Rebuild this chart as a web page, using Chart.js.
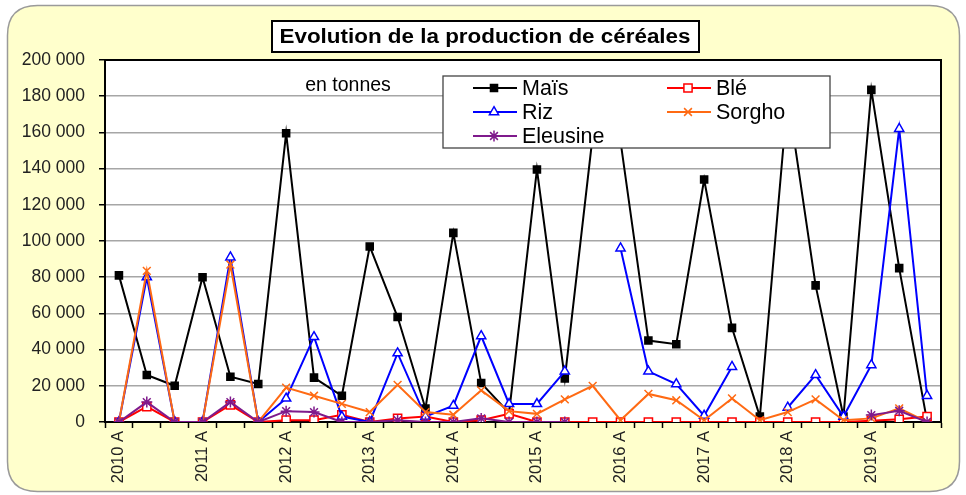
<!DOCTYPE html>
<html><head><meta charset="utf-8">
<script src="https://cdn.jsdelivr.net/npm/chart.js@4.4.1/dist/chart.umd.min.js"></script>
<style>html,body{margin:0;padding:0;background:#fff;}canvas{display:block;}</style>
</head><body>
<canvas id="c" width="966" height="495"></canvas>
<script>
const categories = [
  "2010 A","2010 B","2010 C","2011 A","2011 B","2011 C","2012 A","2012 B","2012 C",
  "2013 A","2013 B","2013 C","2014 A","2014 B","2014 C","2015 A","2015 B","2015 C",
  "2016 A","2016 B","2016 C","2017 A","2017 B","2017 C","2018 A","2018 B","2018 C",
  "2019 A","2019 B","2019 C"
];
const tickLabels = [
  "2010 A","","","2011 A","","","2012 A","","","2013 A","","","2014 A","","",
  "2015 A","","","2016 A","","","2017 A","","","2018 A","","","2019 A","",""
];
const mais = [81000,26000,20000,80000,25000,21000,159500,24500,14500,97000,58000,7500,104500,21500,5000,139500,24000,158000,155000,45000,43000,134000,52000,3000,180000,75500,3000,183500,85000,500];
const ble = [0,8500,0,0,9500,0,1000,1000,4000,0,2000,3000,0,1000,4500,0,0,0,0,0,0,0,0,0,0,0,0,700,1500,3000];
const riz = [0,80000,0,0,91000,0,13000,47000,3000,0,38000,3000,9000,47500,10000,10000,28000,null,96000,28000,21000,3500,30500,null,8000,26000,3000,31500,162000,14500];
const sorgho = [0,83500,0,0,87000,0,19000,14500,10000,5500,20500,5500,4000,17500,6000,4500,12500,20000,1000,15500,12000,1000,13000,1000,5500,12500,1000,2000,7500,0];
const eleusine = [0,11000,0,0,11000,0,6000,5500,0,0,1000,0,0,2000,0,0,0,null,null,null,null,null,null,null,null,null,null,3800,6200,0];
const seriesNames = ["Maïs","Blé","Riz","Sorgho","Eleusine"];
const titleText = "Evolution de la production de céréales";
const unitText = "en tonnes";

const FONT = "'Liberation Sans', Arial, sans-serif";

const framePlugin = {
  id: 'frame',
  beforeDraw(chart) {
    const ctx = chart.ctx, a = chart.chartArea;
    ctx.save();
    ctx.fillStyle = '#ffffff';
    ctx.fillRect(0, 0, chart.width, chart.height);
    const x = 7.5, y = 5.5, w = 952, h = 486, r = 30;
    ctx.beginPath();
    ctx.moveTo(x + r, y);
    ctx.lineTo(x + w - r, y); ctx.quadraticCurveTo(x + w, y, x + w, y + r);
    ctx.lineTo(x + w, y + h - r); ctx.quadraticCurveTo(x + w, y + h, x + w - r, y + h);
    ctx.lineTo(x + r, y + h); ctx.quadraticCurveTo(x, y + h, x, y + h - r);
    ctx.lineTo(x, y + r); ctx.quadraticCurveTo(x, y, x + r, y);
    ctx.closePath();
    ctx.fillStyle = '#FFFFCC';
    ctx.fill();
    ctx.strokeStyle = '#9a9a9a';
    ctx.lineWidth = 1.5;
    ctx.stroke();
    ctx.fillStyle = '#ffffff';
    ctx.fillRect(a.left, a.top, a.right - a.left, a.bottom - a.top);
    ctx.restore();
  },
  beforeDatasetsDraw(chart) {
    const ctx = chart.ctx, a = chart.chartArea;
    ctx.save();
    ctx.strokeStyle = '#000';
    ctx.lineWidth = 2;
    ctx.beginPath();
    ctx.moveTo(a.left, a.top); ctx.lineTo(a.right, a.top); ctx.lineTo(a.right, a.bottom);
    ctx.stroke();
    ctx.fillStyle = '#000';
    ctx.font = '19.5px ' + FONT;
    ctx.textAlign = 'center';
    ctx.textBaseline = 'middle';
    ctx.fillText(unitText, 348, 86);
    ctx.restore();
  },
  afterDatasetsDraw(chart) {
    const ctx = chart.ctx;
    ctx.save();
    ctx.fillStyle = '#fff';
    ctx.fillRect(443, 76, 387, 72);
    ctx.strokeStyle = '#444';
    ctx.lineWidth = 1.3;
    ctx.strokeRect(443, 76, 387, 72);
    const cols = [{x1: 473, x2: 517, mx: 494, tx: 522}, {x1: 667, x2: 711, mx: 688, tx: 716}];
    const rows = [88, 112, 136];
    chart.data.datasets.forEach((ds, i) => {
      const c = cols[i % 2], yy = rows[Math.floor(i / 2)];
      ctx.strokeStyle = ds.borderColor;
      ctx.lineWidth = 2;
      ctx.beginPath(); ctx.moveTo(c.x1, yy); ctx.lineTo(c.x2, yy); ctx.stroke();
      ctx.fillStyle = ds.pointBackgroundColor;
      ctx.strokeStyle = ds.pointBorderColor;
      ctx.lineWidth = ds.pointBorderWidth;
      Chart.helpers.drawPoint(ctx, {pointStyle: ds.pointStyle, radius: ds.pointRadius, rotation: 0, borderWidth: ds.pointBorderWidth}, c.mx, yy);
      ctx.fillStyle = '#000';
      ctx.font = '21.5px ' + FONT;
      ctx.textAlign = 'left';
      ctx.textBaseline = 'middle';
      ctx.fillText(ds.label, c.tx, yy + 1);
    });
    ctx.restore();
  },
  afterDraw(chart) {
    const ctx = chart.ctx;
    ctx.save();
    ctx.fillStyle = '#fff';
    ctx.fillRect(272, 21, 427, 31);
    ctx.strokeStyle = '#000';
    ctx.lineWidth = 2;
    ctx.strokeRect(272, 21, 427, 31);
    ctx.fillStyle = '#000';
    ctx.font = 'bold 20px ' + FONT;
    ctx.textAlign = 'center';
    ctx.textBaseline = 'middle';
    const tw = ctx.measureText(titleText).width;
    const sx = 411 / tw;
    ctx.translate(485, 37.5);
    ctx.scale(sx, 1);
    ctx.fillText(titleText, 0, 0);
    ctx.restore();
  }
};

function mk(label, data, color, style, radius, fill) {
  return {
    label, data,
    borderColor: color, backgroundColor: color,
    borderWidth: 2,
    pointStyle: style, pointRadius: radius, pointHoverRadius: radius,
    pointBackgroundColor: fill, pointBorderColor: color, pointBorderWidth: 1.5,
    tension: 0, spanGaps: false, fill: false
  };
}

const datasets = [
  Object.assign(mk(seriesNames[0], mais, '#000000', 'rect', 5, '#000000'), {order: 5}),
  Object.assign(mk(seriesNames[1], ble, '#FF0000', 'rect', 5.8, '#ffffff'), {order: 4}),
  Object.assign(mk(seriesNames[2], riz, '#0000FF', 'triangle', 5.3, '#ffffff'), {order: 3}),
  Object.assign(mk(seriesNames[3], sorgho, '#FF6A13', 'crossRot', 5.5, '#FF6A13'), {order: 2}),
  Object.assign(mk(seriesNames[4], eleusine, '#7F1A8C', 'star', 5.5, '#7F1A8C'), {order: 1})
];

new Chart(document.getElementById('c'), {
  type: 'line',
  data: {labels: categories, datasets},
  options: {
    responsive: false,
    animation: false,
    events: [],
    layout: {padding: {top: 60, right: 25, bottom: 0, left: 0}},
    plugins: {legend: {display: false}, tooltip: {enabled: false}, title: {display: false}},
    scales: {
      x: {
        offset: true,
        grid: {display: true, drawOnChartArea: false, offset: true, tickLength: 6, tickColor: '#000', tickWidth: 1.5},
        border: {color: '#000', width: 2},
        ticks: {
          autoSkip: false, maxRotation: 90, minRotation: 90, padding: 3,
          color: '#222', font: {family: FONT, size: 16.5},
          callback: (v, i) => tickLabels[i]
        },
        afterFit: s => { s.height = 73; }
      },
      y: {
        min: 0, max: 200000,
        grid: {color: '#A6A6A6', lineWidth: 1.5, tickLength: 6, tickColor: '#000', tickWidth: 1.5},
        border: {color: '#000', width: 2},
        ticks: {
          stepSize: 20000, padding: 14, color: '#222',
          font: {family: FONT, size: 17.5},
          callback: v => String(v).replace(/\B(?=(\d{3})+(?!\d))/g, ' ')
        },
        afterFit: s => { s.width = 105; }
      }
    }
  },
  plugins: [framePlugin]
});
</script>
</body></html>
